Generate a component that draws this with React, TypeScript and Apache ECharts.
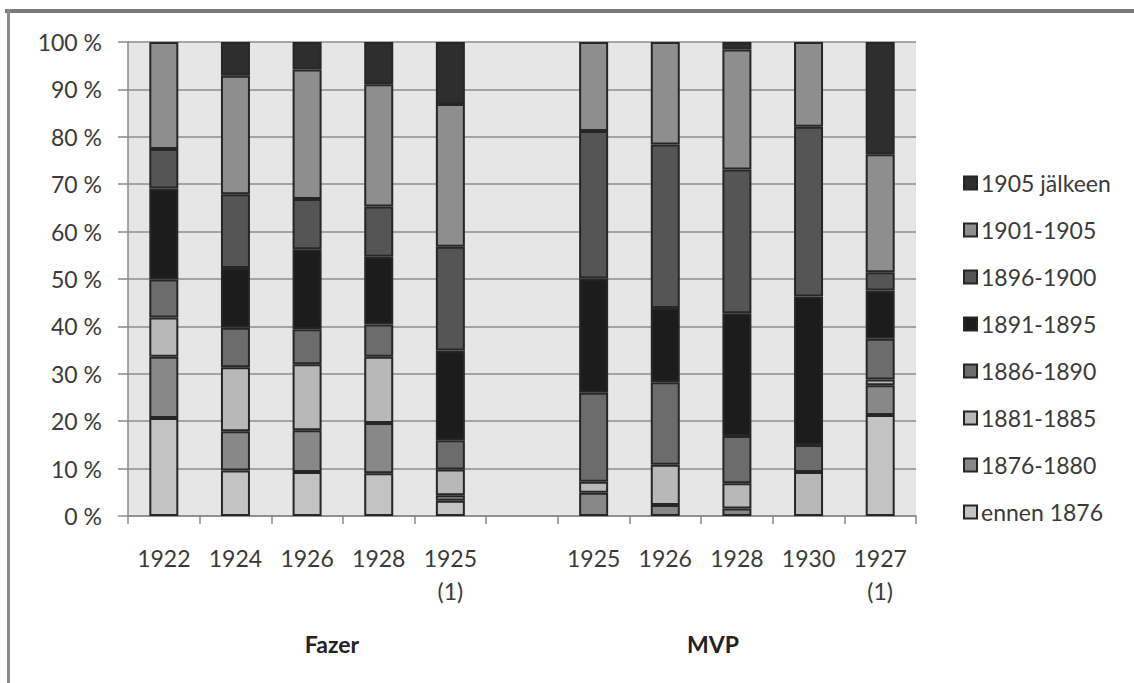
import React, { useEffect, useRef } from "react";
import * as echarts from "echarts";

const categories = ["1922", "1924", "1926", "1928", "1925\n(1)", "", "1925", "1926", "1928", "1930", "1927\n(1)"];
const seriesNames = ["ennen 1876", "1876-1880", "1881-1885", "1886-1890", "1891-1895", "1896-1900", "1901-1905", "1905 jälkeen"];
const ennen1876 = [20.7, 9.6, 9.3, 9.0, 3.2, 0, 0, 0, 0, 0, 21.3];
const s1876_1880 = [12.9, 8.3, 8.8, 10.6, 1.2, 0, 4.9, 2.3, 1.6, 0, 6.3];
const s1881_1885 = [8.3, 13.5, 13.9, 14.0, 5.4, 0, 2.3, 8.5, 5.3, 9.3, 1.2];
const s1886_1890 = [8.0, 8.3, 7.4, 6.8, 6.2, 0, 18.8, 17.4, 10.0, 5.7, 8.6];
const s1891_1895 = [19.2, 12.6, 16.9, 14.3, 18.9, 0, 24.1, 15.7, 25.9, 31.3, 10.2];
const s1896_1900 = [8.3, 15.6, 10.6, 10.6, 21.9, 0, 31.1, 34.5, 30.3, 35.8, 3.8];
const s1901_1905 = [22.6, 25.0, 27.3, 25.8, 30.1, 0, 18.8, 21.6, 25.3, 17.9, 24.9];
const s1905jalkeen = [0, 7.1, 5.8, 8.9, 13.1, 0, 0, 0, 1.6, 0, 23.7];
const seriesValues = [ennen1876, s1876_1880, s1881_1885, s1886_1890, s1891_1895, s1896_1900, s1901_1905, s1905jalkeen];
const seriesColors = ["#c3c3c3", "#888888", "#b8b8b8", "#6c6c6c", "#1c1c1c", "#555555", "#8e8e8e", "#2e2e2e"];
const yTicks = [0, 10, 20, 30, 40, 50, 60, 70, 80, 90, 100];
const groupLabels = ["Fazer", "MVP"];

const FONT = "Lato, 'Open Sans', sans-serif";
const TEXT = "#3a3a3a";

export default function App() {
  const ref = useRef<HTMLDivElement>(null);
  useEffect(() => {
    if (!ref.current) return;
    const chart = echarts.init(ref.current, null, { renderer: "svg" });
    const option = {
      animation: false,
      backgroundColor: "#ffffff",
      textStyle: { fontFamily: FONT },
      grid: {
        left: 128,
        right: 218,
        top: 42,
        bottom: 167,
        show: true,
        backgroundColor: "#e6e6e6",
        borderWidth: 0,
      },
      legend: {
        orient: "vertical",
        left: 958,
        top: 165,
        itemWidth: 13,
        itemHeight: 13,
        itemGap: 21,
        icon: "rect",
        data: [...seriesNames].reverse(),
        textStyle: { fontFamily: FONT, fontSize: 23, color: TEXT, lineHeight: 26, padding: [0, 0, 0, -1] },
        selectedMode: false,
      },
      xAxis: {
        type: "category",
        data: categories,
        axisLine: { show: true, lineStyle: { color: "#8a8a8a", width: 1.5 } },
        axisTick: { show: true, length: 8, lineStyle: { color: "#8a8a8a", width: 1.5 }, interval: 0 },
        axisLabel: {
          interval: 0,
          margin: 25,
          fontFamily: FONT,
          fontSize: 23,
          color: TEXT,
          lineHeight: 33,
        },
        splitLine: { show: false },
      },
      yAxis: {
        type: "value",
        min: 0,
        max: 100,
        interval: 10,
        axisLine: { show: true, lineStyle: { color: "#8a8a8a", width: 1.5 } },
        axisTick: { show: true, length: 10, lineStyle: { color: "#8a8a8a", width: 1.5 } },
        axisLabel: {
          margin: 26,
          fontFamily: FONT,
          fontSize: 23,
          color: TEXT,
          formatter: (v: number) => (yTicks.includes(v) ? `${v} %` : ""),
        },
        splitLine: { show: true, lineStyle: { color: "#8c8c8c", width: 1.5 } },
      },
      series: seriesNames.map((name, i) => ({
        name,
        type: "bar",
        stack: "total",
        barWidth: 29,
        data: seriesValues[i].map((v) => (v === 0 ? "-" : v)),
        itemStyle: { color: seriesColors[i], borderColor: "#262626", borderWidth: 2 },
        emphasis: { disabled: true },
      })),
      graphic: [
        { type: "rect", shape: { x: 5, y: 9, width: 1132, height: 4 }, style: { fill: "#7a7a7a" } },
        { type: "rect", shape: { x: 7, y: 9, width: 3, height: 680 }, style: { fill: "#8a8a8a" } },
        {
          type: "text",
          x: 332,
          y: 644,
          style: { text: groupLabels[0], fontFamily: FONT, fontSize: 23, fontWeight: "bold", fill: "#222", align: "center", verticalAlign: "middle" },
        },
        {
          type: "text",
          x: 713,
          y: 644,
          style: { text: groupLabels[1], fontFamily: FONT, fontSize: 23, fontWeight: "bold", fill: "#222", align: "center", verticalAlign: "middle" },
        },
      ],
    };
    chart.setOption(option as any);
    return () => chart.dispose();
  }, []);
  return <div ref={ref} style={{ position: "fixed", left: 0, top: 0, width: 1134, height: 683 }} />;
}
